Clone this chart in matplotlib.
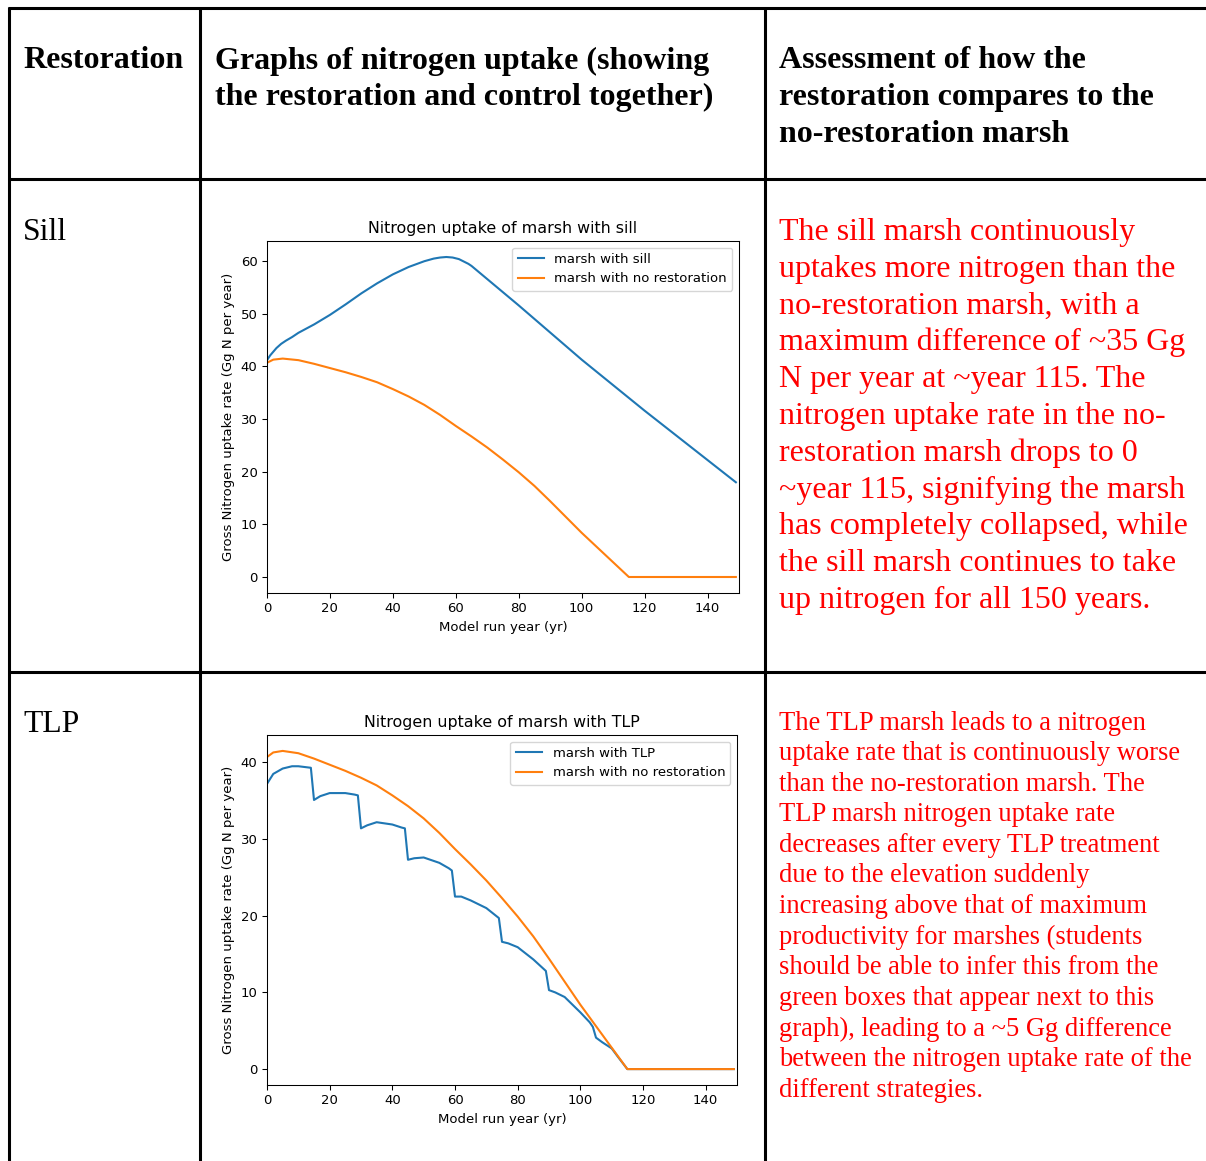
import matplotlib
matplotlib.use("Agg")
import matplotlib.pyplot as plt

# Sill chart data
sill_years = [0, 1, 2, 3, 4.5, 6, 8, 10, 15, 20, 25, 30, 35, 40, 45, 50, 53, 55, 57, 59, 61, 62, 63, 64,
              65, 80, 100, 120, 149]
sill_vals = [41.2, 42.1, 42.8, 43.5, 44.3, 44.9, 45.6, 46.4, 48.0, 49.8, 51.8, 53.9, 55.8, 57.5, 58.9,
             60.0, 60.5, 60.7, 60.8, 60.7, 60.4, 60.1, 59.8, 59.5, 59.1, 51.6, 41.3, 31.6, 18.0]

# no restoration (same in both charts)
none_years = [0, 2, 5, 10, 15, 20, 25, 30, 35, 40, 45, 50, 55, 60, 65, 70, 75, 80, 85, 90, 95, 100,
              105, 110, 115, 149]
none_vals = [40.7, 41.3, 41.5, 41.2, 40.5, 39.7, 38.9, 38.0, 37.0, 35.7, 34.3, 32.7, 30.8, 28.7, 26.7,
             24.6, 22.3, 19.9, 17.3, 14.4, 11.4, 8.4, 5.6, 2.8, 0.0, 0.0]

# TLP chart data
tlp_years = [0, 2, 5, 8, 10, 14, 15, 17, 20, 25, 28, 29, 30, 32, 35, 40, 43, 44, 45, 47, 50, 55, 58, 59,
             60, 62, 65, 70, 74, 75, 77, 80, 85, 89, 90, 92, 95, 100, 103, 104, 105, 107, 110, 112, 115, 149]
tlp_vals = [37.2, 38.5, 39.2, 39.5, 39.5, 39.3, 35.1, 35.6, 36.0, 36.0, 35.8, 35.7, 31.4, 31.8, 32.2,
            31.9, 31.5, 31.4, 27.3, 27.5, 27.6, 26.9, 26.2, 25.9, 22.5, 22.5, 22.0, 21.0, 19.7, 16.6,
            16.4, 15.9, 14.3, 12.8, 10.3, 10.0, 9.4, 7.4, 6.1, 5.5, 4.1, 3.5, 2.7, 1.6, 0.0, 0.0]

header = [["Restoration"],
          ["Graphs of nitrogen uptake (showing", "the restoration and control together)"],
          ["Assessment of how the", "restoration compares to the", "no-restoration marsh"]]
row_names = ["Sill", "TLP"]
sill_text = ["The sill marsh continuously",
             "uptakes more nitrogen than the",
             "no-restoration marsh, with a",
             "maximum difference of ~35 Gg",
             "N per year at ~year 115. The",
             "nitrogen uptake rate in the no-",
             "restoration marsh drops to 0",
             "~year 115, signifying the marsh",
             "has completely collapsed, while",
             "the sill marsh continues to take",
             "up nitrogen for all 150 years."]
tlp_text = ["The TLP marsh leads to a nitrogen",
            "uptake rate that is continuously worse",
            "than the no-restoration marsh. The",
            "TLP marsh nitrogen uptake rate",
            "decreases after every TLP treatment",
            "due to the elevation suddenly",
            "increasing above that of maximum",
            "productivity for marshes (students",
            "should be able to infer this from the",
            "green boxes that appear next to this",
            "graph), leading to a ~5 Gg difference",
            "between the nitrogen uptake rate of the",
            "different strategies."]

W, H = 1206, 1161
fig = plt.figure(figsize=(W / 100, H / 100), dpi=100)

# background axes in pixel coords for the table
bg = fig.add_axes([0, 0, 1, 1])
bg.set_xlim(0, W)
bg.set_ylim(H, 0)
bg.axis("off")

lw = 2.2
for x in [9, 200, 765]:
    bg.plot([x, x], [7, H], color="black", lw=lw, solid_capstyle="butt")
for y in [8, 179, 672]:
    bg.plot([8, W], [y, y], color="black", lw=lw, solid_capstyle="butt")

serif = "Liberation Serif"
col_x = [23, 215, 779]
for cx, lines in zip(col_x, header):
    for i, t in enumerate(lines):
        bg.text(cx, 68.5 + i * 37, t, fontsize=23, fontweight="bold", family=serif,
                va="baseline", ha="left")

bg.text(23, 240, row_names[0], fontsize=22.8, family=serif, va="baseline")
bg.text(23, 732, row_names[1], fontsize=22.8, family=serif, va="baseline")

for i, t in enumerate(sill_text):
    bg.text(779, 240 + i * 36.8, t, fontsize=23, family=serif, color="red", va="baseline")
for i, t in enumerate(tlp_text):
    bg.text(779, 729.5 + i * 30.6, t, fontsize=19.1, family=serif, color="red", va="baseline")

fs = 9.5


def make_chart(rect, title, rest_x, rest_y, label):
    ax = fig.add_axes(rect)
    ax.plot(rest_x, rest_y, color="#1f77b4", lw=1.5, label=label)
    ax.plot(none_years, none_vals, color="#ff7f0e", lw=1.5, label="marsh with no restoration")
    ax.set_xlim(0, 150)
    ax.set_xticks([0, 20, 40, 60, 80, 100, 120, 140])
    ax.set_title(title, fontsize=11.4)
    ax.set_xlabel("Model run year (yr)", fontsize=fs)
    ax.set_ylabel("Gross Nitrogen uptake rate (Gg N per year)", fontsize=fs)
    ax.tick_params(labelsize=fs, width=0.76, length=3.3)
    for s in ax.spines.values():
        s.set_linewidth(0.76)
    ax.legend(loc="upper right", fontsize=fs)
    return ax


def rect_px(l, t, r, b):
    return [l / W, 1 - b / H, (r - l) / W, (b - t) / H]


make_chart(rect_px(267, 241, 739, 593), "Nitrogen uptake of marsh with sill",
           sill_years, sill_vals, "marsh with sill")
make_chart(rect_px(267, 735, 737, 1085), "Nitrogen uptake of marsh with TLP",
           tlp_years, tlp_vals, "marsh with TLP")

fig.savefig("out.png", dpi=100, facecolor="white")
